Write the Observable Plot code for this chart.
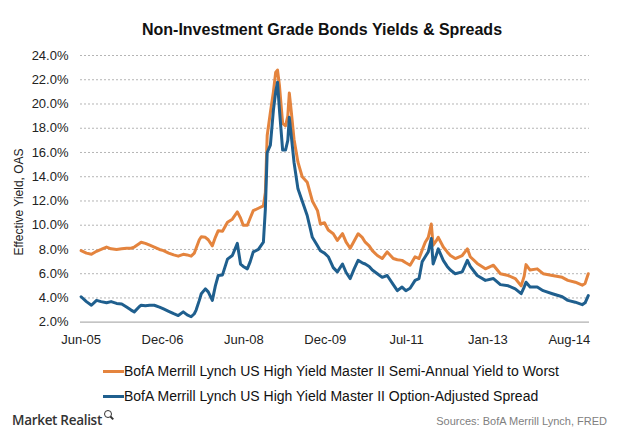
<!DOCTYPE html>
<html>
<head>
<meta charset="utf-8">
<script src="https://cdn.jsdelivr.net/npm/d3@7"></script>
<script src="https://cdn.jsdelivr.net/npm/@observablehq/plot@0.6"></script>
<style>
  body { margin: 0; background: #fff; font-family: "Liberation Sans", Arial, sans-serif; }
  #wrap { position: relative; width: 620px; height: 435px; overflow: hidden; background: #fff; }
  #title { position: absolute; left: 0; top: 20px; width: 644px; text-align: center; font-weight: bold; font-size: 16px; line-height: 20px; color: #111; }
  #chart { position: absolute; left: 0; top: 40px; }
  #ylabel { position: absolute; left: 19px; top: 202px; transform: translate(-50%, -50%) rotate(-90deg); white-space: nowrap; font-size: 12px; color: #222; }
  #legend { position: absolute; left: 103px; top: 359px; font-size: 14px; color: #111; }
  .row { height: 25px; line-height: 25px; white-space: nowrap; }
  .sw { display: inline-block; width: 21px; height: 3px; vertical-align: middle; margin-top: -2px; }
  #brand { position: absolute; left: 12px; top: 411px; font-family: "Open Sans", sans-serif; font-weight: 600; font-size: 13.5px; color: #333; letter-spacing: -0.3px; }
  .mag { display: inline-block; position: relative; width: 6px; height: 6px; border: 1.5px solid #333; border-radius: 50%; margin-left: 2px; top: -7px; }
  .mag::after { content: ""; position: absolute; width: 4px; height: 1.5px; background: #333; left: 5px; top: 6px; transform: rotate(45deg); }
  #source { position: absolute; right: 13px; top: 415px; font-size: 11px; color: #808080; }
</style>
</head>
<body>
<div id="wrap">
  <div id="title">Non-Investment Grade Bonds Yields &amp; Spreads</div>
  <div id="chart"></div>
  <div id="ylabel">Effective Yield, OAS</div>
  <div id="legend"></div>
  <div id="brand">Market Realist<span class="mag"></span></div>
  <div id="source">Sources: BofA Merrill Lynch, FRED</div>
</div>
<script>
const seriesNames = [
  "BofA Merrill Lynch US High Yield Master II Semi-Annual Yield to Worst",
  "BofA Merrill Lynch US High Yield Master II Option-Adjusted Spread"
];
const seriesColors = ["#E4843E", "#1F5F8E"];

const yTicks = [2, 4, 6, 8, 10, 12, 14, 16, 18, 20, 22, 24];
// category-axis style labels: one label every 537 days from the first observation
const xTickLabels = ["Jun-05", "Dec-06", "Jun-08", "Dec-09", "Jul-11", "Jan-13", "Aug-14"];
const xLabelEveryDays = 537;
const xDomain = ["2005-06-01", "2014-08-12"];

const dates = [
"2005-06-05","2005-07-10","2005-08-12","2005-09-15","2005-10-15","2005-11-20","2005-12-20",
"2006-01-25","2006-02-28","2006-04-01","2006-05-01","2006-05-22","2006-06-25","2006-07-06","2006-08-03","2006-09-01","2006-10-01","2006-11-04","2006-12-01",
"2007-01-04","2007-02-06","2007-03-08","2007-04-10","2007-05-06","2007-06-01","2007-06-22","2007-07-04","2007-07-25","2007-08-07","2007-09-03","2007-09-22","2007-10-19","2007-11-08","2007-11-27","2007-12-25",
"2008-01-27","2008-02-28","2008-04-01","2008-04-22","2008-05-10","2008-06-06","2008-06-25","2008-07-15","2008-08-18","2008-09-20","2008-10-03","2008-10-15","2008-11-05","2008-11-25","2008-12-10","2008-12-22",
"2009-01-04","2009-01-25","2009-02-13","2009-02-28","2009-03-10","2009-03-22","2009-04-10","2009-05-06","2009-06-03","2009-07-06","2009-08-09","2009-09-12","2009-10-01","2009-10-28","2009-11-22","2009-12-25",
"2010-01-21","2010-02-24","2010-03-20","2010-04-16","2010-05-12","2010-06-07","2010-07-04","2010-07-24","2010-08-19","2010-09-09","2010-10-12","2010-11-13","2010-12-16",
"2011-01-25","2011-02-21","2011-03-24","2011-04-18","2011-05-16","2011-06-18","2011-07-14","2011-08-04","2011-08-24","2011-09-13","2011-10-03","2011-10-15","2011-11-04","2011-11-18","2011-12-21",
"2012-01-16","2012-02-06","2012-03-09","2012-04-24","2012-05-28","2012-06-16","2012-08-01","2012-09-24","2012-11-16",
"2013-01-01","2013-02-22","2013-04-09","2013-05-18","2013-06-07","2013-06-19","2013-07-16","2013-09-01","2013-10-10","2013-12-10",
"2014-02-13","2014-03-22","2014-05-10","2014-06-25","2014-07-14","2014-08-04"
];

const yieldToWorst = [
7.9,7.7,7.6,7.85,8.0,8.2,8.05,
8.0,8.05,8.1,8.1,8.2,8.5,8.6,8.5,8.35,8.2,8.0,7.9,
7.7,7.55,7.45,7.6,7.55,7.45,7.7,8.1,8.8,9.05,9.0,8.8,8.3,9.0,9.55,9.5,
10.25,10.5,11.1,10.6,10.0,10.0,10.6,11.2,11.4,11.6,12.7,17.4,19.3,21.0,22.6,22.8,
21.5,18.4,18.2,19.0,20.9,19.5,17.1,15.2,14.0,13.55,12.0,11.2,10.1,10.2,9.6,9.3,
8.75,9.3,8.6,8.1,8.7,9.3,9.0,8.6,8.3,7.9,7.5,7.25,7.8,
7.25,7.15,7.1,6.9,6.7,7.4,7.25,7.95,8.6,9.0,10.1,8.35,8.7,9.0,8.2,
7.8,7.5,7.25,7.5,8.05,7.4,6.85,6.4,6.7,
6.0,5.85,5.6,5.0,5.8,6.75,6.3,6.4,6.0,5.85,
5.7,5.45,5.3,5.05,5.2,6.0
];

const optionAdjSpread = [
4.1,3.7,3.4,3.8,3.7,3.6,3.7,
3.55,3.5,3.25,3.0,2.85,3.3,3.4,3.35,3.4,3.4,3.25,3.1,
2.9,2.7,2.55,2.85,2.6,2.45,2.7,3.0,3.8,4.35,4.75,4.5,3.8,5.0,5.85,5.9,
7.2,7.5,8.5,6.8,6.6,6.4,7.0,7.8,8.0,8.6,11.35,16.0,16.6,19.5,21.0,21.8,
19.5,16.2,16.2,17.0,18.9,17.5,15.2,13.0,12.0,10.8,9.0,8.3,7.9,7.7,7.4,6.5,
6.15,6.8,6.1,5.6,6.4,7.1,6.9,6.8,6.6,6.3,6.0,5.7,5.85,
5.1,4.6,4.9,4.6,4.8,5.45,5.6,7.0,7.4,7.8,8.9,6.8,7.5,8.05,7.1,
6.6,6.3,6.0,6.15,7.1,6.6,5.85,5.45,5.6,
5.1,5.0,4.75,4.35,4.9,5.3,4.9,4.9,4.6,4.35,
4.1,3.8,3.65,3.45,3.6,4.2
];

const rows = dates.map((d, i) => ({date: new Date(d), ytw: yieldToWorst[i], oas: optionAdjSpread[i]}));
const firstDate = new Date(dates[0]);
const tickDates = xTickLabels.map((_, i) => new Date(+firstDate + i * xLabelEveryDays * 864e5));
const labelByTime = new Map(tickDates.map((d, i) => [+d, xTickLabels[i]]));

const chart = Plot.plot({
  width: 620,
  height: 320,
  marginTop: 15,
  marginBottom: 38.3,
  marginLeft: 80,
  marginRight: 31,
  style: {fontFamily: '"Liberation Sans", Arial, sans-serif', fontSize: "13px", color: "#222", background: "transparent", overflow: "visible"},
  x: {type: "utc", domain: xDomain.map(d => new Date(d))},
  y: {domain: [yTicks[0], yTicks[yTicks.length - 1]]},
  marks: [
    Plot.gridY(yTicks.slice(1), {stroke: "#b5b5b5", strokeOpacity: 1, strokeDasharray: "2,2", strokeWidth: 1}),
    Plot.ruleY([yTicks[0]], {stroke: "#b0b0b0", strokeWidth: 1.3}),
    Plot.axisY(yTicks, {tickSize: 0, tickPadding: 12, tickFormat: d => d.toFixed(1) + "%", label: null, fontSize: 13}),
    Plot.axisX(tickDates, {tickSize: 0, tickPadding: 13, tickFormat: d => labelByTime.get(+d), label: null, fontSize: 13}),
    Plot.line(rows, {x: "date", y: "ytw", stroke: seriesColors[0], strokeWidth: 3, strokeLinejoin: "round"}),
    Plot.line(rows, {x: "date", y: "oas", stroke: seriesColors[1], strokeWidth: 3, strokeLinejoin: "round"})
  ]
});
document.getElementById("chart").appendChild(chart);

const legend = document.getElementById("legend");
seriesNames.forEach((name, i) => {
  const row = document.createElement("div");
  row.className = "row";
  const sw = document.createElement("span");
  sw.className = "sw";
  sw.style.background = seriesColors[i];
  row.appendChild(sw);
  row.appendChild(document.createTextNode(name));
  legend.appendChild(row);
});
</script>
</body>
</html>
